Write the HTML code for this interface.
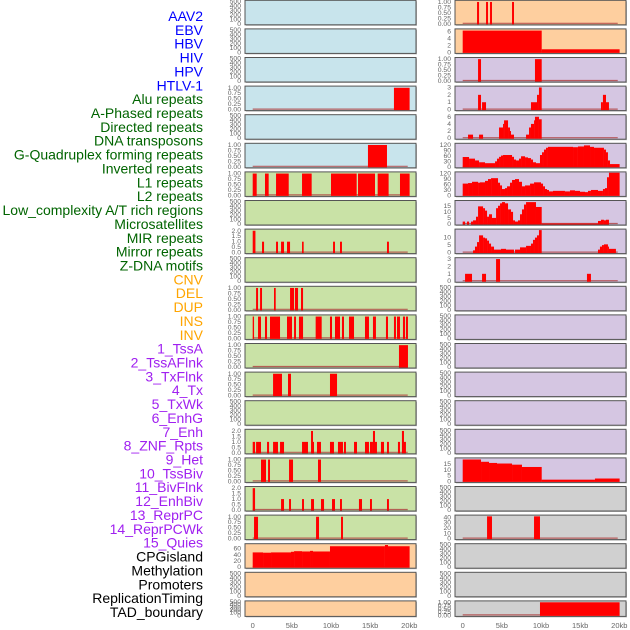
<!DOCTYPE html>
<html><head><meta charset="utf-8">
<style>
html,body{margin:0;padding:0;background:#fff;}
svg{display:block;}
.lab{font-family:"Liberation Sans",sans-serif;font-size:14px;}
.tk{font-family:"Liberation Sans",sans-serif;font-size:6.8px;fill:#666;}
.xt{font-family:"Liberation Sans",sans-serif;font-size:7.5px;fill:#666;}
</style></head>
<body>
<svg id="chart" width="630" height="630" viewBox="0 0 630 630"></svg>
<script>
// ---- track labels ----
const trackLabels = ["AAV2","EBV","HBV","HIV","HPV","HTLV-1","Alu repeats","A-Phased repeats","Directed repeats","DNA transposons","G-Quadruplex forming repeats","Inverted repeats","L1 repeats","L2 repeats","Low_complexity A/T rich regions","Microsatellites","MIR repeats","Mirror repeats","Z-DNA motifs","CNV","DEL","DUP","INS","INV","1_TssA","2_TssAFlnk","3_TxFlnk","4_Tx","5_TxWk","6_EnhG","7_Enh","8_ZNF_Rpts","9_Het","10_TssBiv","11_BivFlnk","12_EnhBiv","13_ReprPC","14_ReprPCWk","15_Quies","CPGisland","Methylation","Promoters","ReplicationTiming","TAD_boundary"];
const labelGroups = [6,13,5,15,5];
const xTickValues = [0,5,10,15,20];
const xTickLabels = ["0","5kb","10kb","15kb","20kb"];

// ---- tick label sets ----
const ticksEmpty = [0,100,200,300,400,500];
const ticksUnit = [0,0.25,0.5,0.75,1.0];
const ticksUnitLbl = ["0.00","0.25","0.50","0.75","1.00"];
const ticksTwo = [0,0.5,1.0,1.5,2.0];
const ticksTwoLbl = ["0.0","0.5","1.0","1.5","2.0"];

// ---- left column data: [startKb, endKb, value] ----
const leftAlu = [[18.04,20.04,1]];
const leftGQuad = [[14.72,17.15,1]];
const leftL1 = [[0,0.51,1],[1.57,2.04,1],[2.98,4.6,1],[6.3,7.53,1],[10.0,13.28,1],[13.45,15.62,1],[15.96,17.36,1],[18.81,20.04,1]];
const leftMIR = [[0,0.35,2],[1.19,1.45,1],[2.98,3.23,1],[3.62,4.0,1],[4.38,4.77,1],[6.3,6.51,1],[10.26,10.51,1],[11.15,11.4,1],[17.15,17.4,1]];
const leftCNV = [[0.43,0.68,1],[0.94,1.19,1],[2.72,2.94,1],[4.77,5.28,1],[5.4,5.79,1],[6.17,6.43,1]];
const leftDEL = [[0,0.17,1],[0.68,1.06,1],[1.57,1.83,1],[2.21,3.49,1],[4.38,5.02,1],[5.28,5.53,1],[5.91,6.43,1],[8.04,8.81,1],[9.87,10.13,1],[10.51,11.15,1],[11.4,11.66,1],[12.3,12.94,1],[14.34,14.85,1],[15.36,15.74,1],[17.02,17.28,1],[18.04,18.3,1],[18.43,18.81,1],[19.19,19.45,1],[19.57,19.83,1]];
const leftDUP = [[18.68,19.83,1]];
const leftINS = [[2.6,3.74,1],[4.51,4.89,1],[9.87,10.77,1]];
const leftTssAFlnk = [[0,0.3,1],[0.43,1.06,1],[1.83,2.09,1],[2.6,3.23,1],[3.49,4.0,1],[6.3,7.06,1],[7.45,7.7,2],[7.7,7.83,1],[8.21,8.72,1],[9.87,10.38,1],[10.89,11.53,1],[11.66,11.91,1],[12.94,13.32,1],[14.34,14.85,1],[14.98,15.36,1],[15.36,15.62,2],[15.62,15.87,1],[16.38,16.77,1],[17.15,17.4,1],[18.55,18.81,1],[19.06,19.32,2],[19.32,19.57,1]];
const leftTxFlnk = [[1.06,1.7,1],[1.96,2.21,1],[4.64,5.15,1],[8.34,8.72,1]];
const leftTx = [[0,0.3,2],[3.62,4.0,1],[4.64,4.89,1],[6.3,6.55,1],[7.45,7.83,1],[8.72,9.11,1],[10.13,10.51,1],[11.15,11.4,1],[13.57,13.96,1],[14.98,15.23,1],[17.15,17.4,1]];
const leftTxWk = [[0.17,0.68,1],[8.09,8.47,1],[11.28,11.53,1]];
const leftCPG = [[0,1.32,48],[1.32,2.34,47],[2.34,4.89,48],[4.89,5.28,50],[5.28,6.3,52],[6.3,7.32,51],[7.32,7.7,53],[7.7,9.87,51],[9.87,16.89,68],[16.89,17.28,72],[17.28,20.04,68]];

// ---- right column data ----
const rightAAV2 = [[1.83,2.09,1],[2.98,3.23,1],[3.49,3.74,1],[6.3,6.55,1]];
const rightEBV = [[0,10.09,6.3],[10.09,20.04,0.9]];
const rightHIV = [[1.96,2.34,1],[9.23,10.09,1]];
const rightHPV = [[1.96,2.34,2],[2.47,2.98,1],[8.72,9.49,1],[9.49,9.74,2],[9.74,10.09,3],[17.66,17.91,1],[17.91,18.3,2],[18.3,18.68,1]];
const rightHTLV = [[0.68,1.32,1],[2.09,2.6,1],[4.64,5.15,3],[5.15,5.28,4],[5.28,5.79,5],[5.79,6.04,3],[6.04,6.17,2],[6.17,6.55,1],[8.09,8.47,1],[8.47,8.72,3],[8.72,9.11,4],[9.11,9.23,5],[9.23,9.74,6],[9.74,10.09,5.3]];
const rightAlu = [[0,0.81,54],[0.81,1.57,45],[1.57,2.09,35],[2.09,2.85,25],[2.85,4.13,20],[4.13,4.38,30],[4.38,4.64,45],[4.64,4.89,55],[4.89,5.15,62],[5.15,6.3,65],[6.3,6.55,55],[6.55,6.81,40],[6.81,7.19,35],[7.19,7.45,45],[7.45,7.96,58],[7.96,8.34,52],[8.34,8.72,48],[8.72,8.98,40],[8.98,9.36,25],[9.36,9.87,20],[9.87,10.13,65],[10.13,10.38,80],[10.38,10.64,95],[10.64,10.89,105],[10.89,14.09,110],[14.09,14.72,108],[14.72,15.49,112],[15.49,16.26,118],[16.26,16.77,110],[16.77,18.04,105],[18.04,18.3,95],[18.3,18.55,80],[18.55,18.81,35],[18.81,20.04,15]];
const rightAPhased = [[0,0.68,65],[0.68,1.19,68],[1.19,1.96,75],[1.96,2.21,70],[2.21,2.85,72],[2.85,3.23,80],[3.23,3.62,90],[3.62,4.51,95],[4.51,4.77,70],[4.77,5.02,55],[5.02,5.4,35],[5.4,5.66,40],[5.66,6.04,50],[6.04,6.3,70],[6.3,6.68,85],[6.68,7.19,90],[7.19,7.57,75],[7.57,7.96,50],[7.96,8.6,55],[8.6,9.11,65],[9.11,10.0,72],[10.0,10.26,65],[10.26,10.51,50],[10.51,10.77,35],[10.77,11.02,30],[11.02,11.53,22],[11.53,13.06,25],[13.06,13.7,22],[13.7,14.34,28],[14.34,14.98,25],[14.98,15.62,20],[15.62,16.0,18],[16.0,16.38,25],[16.38,17.28,30],[17.28,17.91,25],[17.91,18.17,35],[18.17,18.43,40],[18.43,18.68,100],[18.68,20.04,125]];
const rightDirected = [[0,0.3,2],[0.55,0.81,2],[1.06,1.32,2],[1.32,1.7,3],[1.7,1.96,6],[1.96,2.6,14.5],[2.6,2.85,13],[2.85,3.11,11],[3.11,3.36,6],[3.36,3.74,8],[3.74,4.26,5],[4.26,4.51,13],[4.51,4.77,15],[4.77,5.02,17],[5.02,5.4,18],[5.4,5.79,17],[5.79,6.17,12],[6.17,6.43,10],[6.43,6.68,3],[6.68,7.06,2],[7.06,7.32,3],[7.32,7.57,8],[7.57,7.83,12],[7.83,8.09,16],[8.09,9.36,18],[9.36,10.09,14],[10.09,17.28,0.4],[17.28,17.66,2.5],[17.66,18.04,3.5],[18.04,18.3,3],[18.3,18.68,3.5]];
const rightDNA = [[1.32,1.57,1.5],[1.57,1.83,4],[1.83,2.09,7],[2.09,2.6,11.5],[2.6,2.85,10],[2.85,3.11,9.5],[3.11,3.36,8],[3.36,3.62,6],[3.62,4.0,4],[4.0,4.89,2],[4.89,5.53,2.5],[5.53,6.55,2],[6.68,7.32,2],[7.32,8.09,3.5],[8.09,8.72,4.5],[8.72,8.98,6],[8.98,9.23,8.5],[9.23,9.49,10],[9.49,9.74,11.5],[9.74,10.09,15],[17.28,17.53,2],[17.53,17.79,4],[17.79,18.04,5],[18.04,18.55,5.5],[18.55,18.68,4],[18.68,19.57,2.5]];
const rightGQuad = [[0.3,1.19,1],[2.47,2.98,1],[4.26,4.77,3],[15.87,16.38,1]];
const rightHet = [[0,2.34,19],[2.34,3.36,17],[3.36,4.38,16],[4.38,6.3,15.5],[6.3,7.57,14.5],[7.57,10.09,12.5],[10.09,16.89,1.5],[16.89,20.04,2.5]];
const rightReprPC = [[3.11,3.74,42],[9.11,9.87,42]];
const rightTAD = [[9.87,20.04,1]];

const BG = {blue:"#c8e4ec",green:"#c9e2a6",orange:"#fecf9f",purple:"#d5c6e2",gray:"#d0d0d0"};

const panels = [
 ["L",0,"blue",500,ticksEmpty,null,null],["L",1,"blue",500,ticksEmpty,null,null],["L",2,"blue",500,ticksEmpty,null,null],
 ["L",3,"blue",1.03,ticksUnit,ticksUnitLbl,leftAlu],["L",4,"blue",500,ticksEmpty,null,null],
 ["L",5,"blue",1.03,ticksUnit,ticksUnitLbl,leftGQuad],["L",6,"green",1.03,ticksUnit,ticksUnitLbl,leftL1],
 ["L",7,"green",500,ticksEmpty,null,null],["L",8,"green",2.06,ticksTwo,ticksTwoLbl,leftMIR],["L",9,"green",500,ticksEmpty,null,null],
 ["L",10,"green",1.03,ticksUnit,ticksUnitLbl,leftCNV],["L",11,"green",1.03,ticksUnit,ticksUnitLbl,leftDEL],
 ["L",12,"green",1.03,ticksUnit,ticksUnitLbl,leftDUP],["L",13,"green",1.03,ticksUnit,ticksUnitLbl,leftINS],
 ["L",14,"green",500,ticksEmpty,null,null],["L",15,"green",2.06,ticksTwo,ticksTwoLbl,leftTssAFlnk],
 ["L",16,"green",1.03,ticksUnit,ticksUnitLbl,leftTxFlnk],["L",17,"green",2.06,ticksTwo,ticksTwoLbl,leftTx],
 ["L",18,"green",1.03,ticksUnit,ticksUnitLbl,leftTxWk],["L",19,"orange",73,[0,20,40,60],null,leftCPG],
 ["L",20,"orange",500,ticksEmpty,null,null],["L",21,"orange",500,ticksEmpty,null,null],
 ["R",0,"orange",1.03,ticksUnit,ticksUnitLbl,rightAAV2],["R",1,"orange",6.5,[0,2,4,6],null,rightEBV],
 ["R",2,"purple",1.03,ticksUnit,ticksUnitLbl,rightHIV],["R",3,"purple",3.05,[0,1,2,3],null,rightHPV],
 ["R",4,"purple",6.3,[0,2,4,6],null,rightHTLV],["R",5,"purple",124,[0,30,60,90,120],null,rightAlu],
 ["R",6,"purple",124,[0,30,60,90,120],null,rightAPhased],["R",7,"purple",18.5,[0,5,10,15],null,rightDirected],
 ["R",8,"purple",15,[0,5,10],null,rightDNA],["R",9,"purple",3.05,[0,1,2,3],null,rightGQuad],
 ["R",10,"purple",500,ticksEmpty,null,null],["R",11,"purple",500,ticksEmpty,null,null],["R",12,"purple",500,ticksEmpty,null,null],
 ["R",13,"purple",500,ticksEmpty,null,null],["R",14,"purple",500,ticksEmpty,null,null],["R",15,"purple",500,ticksEmpty,null,null],
 ["R",16,"purple",19.5,[0,5,10,15],null,rightHet],["R",17,"gray",500,ticksEmpty,null,null],
 ["R",18,"gray",42.5,[0,10,20,30,40],null,rightReprPC],["R",19,"gray",500,ticksEmpty,null,null],
 ["R",20,"gray",500,ticksEmpty,null,null],["R",21,"gray",1.03,ticksUnit,ticksUnitLbl,rightTAD]
];

const NS = "http://www.w3.org/2000/svg";
const svg = document.getElementById("chart");
function mk(tag, attrs, parent){
  const e = document.createElementNS(NS, tag);
  for (const k in attrs) e.setAttribute(k, attrs[k]);
  (parent||svg).appendChild(e);
  return e;
}

const groupColors = ["#0000ff","#006400","#ffa500","#a020f0","#000000"];
let gi = 0, cnt = 0;
trackLabels.forEach((t,i)=>{
  while (cnt >= labelGroups[gi]) { cnt -= labelGroups[gi]; gi++; }
  cnt++;
  const tx = mk("text",{x:203,y:16+13.86*i,"text-anchor":"end","dominant-baseline":"central",class:"lab",fill:groupColors[gi]});
  tx.textContent = t;
  
  
});

const COL = {L:{x0:245,x1:416,ox:252.7}, R:{x0:455,x1:626,ox:462.7}};
const KB = 7.83;

panels.forEach(p=>{
  const [col,row,bg,max,ticks,tlbl,data] = p;
  const c = COL[col];
  const top = 0.3 + 28.6*row;
  const h = row===21 ? 15.5 : 24.5;
  const bottom = top + h;
  const xs = kb => c.ox + KB*kb;
  const ys = v => bottom - 1 - (v/max)*(h-2);
  const g = mk("g",{});
  
  
  mk("rect",{x:c.x0+1,y:top+1,width:c.x1-c.x0,height:h,fill:"#bbb"},g);
  mk("rect",{x:c.x0,y:top,width:c.x1-c.x0,height:h,fill:BG[bg],stroke:"#555","stroke-width":1},g);
  if (data){
    mk("line",{x1:xs(0),x2:xs(19.8),y1:bottom-1.5,y2:bottom-1.5,stroke:"#b04040","stroke-width":1.2,opacity:0.8},g);
    data.forEach(s=>{
      const r = mk("rect",{x:xs(s[0]),y:ys(s[2]),width:Math.max(0.8,xs(s[1])-xs(s[0])),height:ys(0)-ys(s[2])+0.5,fill:"#ff0000"},g);
      
      
    });
  }
  ticks.forEach((t,k)=>{
    const tt = mk("text",{x:c.x0-4,y:ys(t)+2,"text-anchor":"end",class:"tk"},g);
    tt.textContent = tlbl ? tlbl[k] : String(t);
    
    
  });
});

["L","R"].forEach(col=>{
  const c = COL[col];
  xTickValues.forEach((v,k)=>{
    const t = mk("text",{x:c.ox+KB*v,y:628,"text-anchor":"middle",class:"xt"});
    t.textContent = xTickLabels[k];
    
    
  });
});
</script>
</body></html>
